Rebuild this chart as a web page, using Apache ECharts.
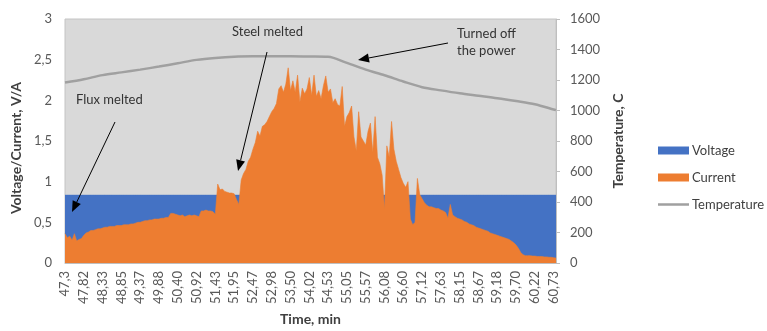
<!DOCTYPE html>
<html>
<head>
<meta charset="utf-8">
<script src="https://cdn.jsdelivr.net/npm/echarts@6/dist/echarts.min.js"></script>
<style>
html,body{margin:0;padding:0;background:#fff;}
#chart{width:767px;height:331px;}
</style>
</head>
<body>
<div id="chart"></div>
<script>
// Tick labels of the time axis (every 8th sample)
const tickLabels = ['47,3','47,82','48,33','48,85','49,37','49,88','50,40','50,92','51,43','51,95','52,47','52,98','53,50','54,02','54,53','55,05','55,57','56,08','56,60','57,12','57,63','58,15','58,67','59,18','59,70','60,22','60,73'];
const samplesPerTick = 8;

// Voltage, V (left axis)
const voltage = [
0.835,0.835,0.835,0.835,0.835,0.835,0.835,0.835,
0.835,0.835,0.835,0.835,0.835,0.835,0.835,0.835,
0.835,0.835,0.835,0.835,0.835,0.835,0.835,0.835,
0.835,0.835,0.835,0.835,0.835,0.835,0.835,0.835,
0.835,0.835,0.835,0.835,0.835,0.835,0.835,0.835,
0.835,0.835,0.835,0.835,0.835,0.835,0.835,0.835,
0.835,0.835,0.835,0.835,0.835,0.835,0.835,0.835,
0.835,0.835,0.835,0.835,0.835,0.835,0.835,0.835,
0.835,0.835,0.835,0.835,0.835,0.835,0.835,0.835,
0.835,0.835,0.835,0.835,0.835,0.835,0.835,0.835,
0.835,0.835,0.835,0.835,0.835,0.835,0.835,0.835,
0.835,0.835,0.835,0.835,0.835,0.835,0.835,0.835,
0.835,0.835,0.835,0.835,0.835,0.835,0.835,0.835,
0.835,0.835,0.835,0.835,0.835,0.835,0.835,0.835,
0.835,0.835,0.835,0.835,0.835,0.835,0.835,0.835,
0.835,0.835,0.835,0.835,0.835,0.835,0.835,0.835,
0.835,0.835,0.835,0.835,0.835,0.835,0.835,0.835,
0.835,0.835,0.835,0.835,0.835,0.835,0.835,0.835,
0.835,0.835,0.835,0.835,0.835,0.835,0.835,0.835,
0.835,0.835,0.835,0.835,0.835,0.835,0.835,0.835,
0.835,0.835,0.835,0.835,0.835,0.835,0.835,0.835,
0.835,0.835,0.835,0.835,0.835,0.835,0.835,0.835,
0.835,0.835,0.835,0.835,0.835,0.835,0.835,0.835,
0.835,0.835,0.835,0.835,0.835,0.835,0.835,0.835,
0.835,0.835,0.835,0.835,0.835,0.835,0.835,0.835,
0.835,0.835,0.835,0.835,0.835,0.835,0.835,0.835,
0.835,0.835
];

// Current, A (left axis)
const current = [
0.36,0.31,0.33,0.28,0.36,0.27,0.29,0.30,
0.34,0.37,0.38,0.40,0.40,0.41,0.42,0.42,
0.43,0.44,0.44,0.45,0.45,0.45,0.46,0.46,
0.46,0.47,0.47,0.47,0.48,0.48,0.49,0.50,
0.50,0.51,0.52,0.52,0.53,0.53,0.54,0.54,
0.54,0.55,0.55,0.56,0.56,0.61,0.61,0.60,
0.59,0.58,0.59,0.57,0.58,0.59,0.58,0.59,
0.58,0.57,0.64,0.64,0.65,0.64,0.64,0.63,
0.60,0.97,0.90,0.91,0.88,0.87,0.86,0.86,
0.85,0.78,0.72,1.02,1.10,1.15,1.25,1.30,
1.40,1.48,1.62,1.56,1.68,1.70,1.74,1.80,
1.86,1.90,1.96,2.14,2.18,2.10,2.20,2.40,
2.12,2.24,2.10,2.31,1.98,2.15,2.08,2.14,
2.28,2.06,2.31,2.05,2.12,2.02,2.18,2.30,
2.10,2.14,1.97,2.02,1.95,1.93,2.17,1.68,
1.80,1.85,1.93,1.55,1.38,1.86,1.55,1.50,
1.45,1.62,1.72,1.36,1.80,1.30,1.22,1.08,
0.66,1.44,1.30,1.74,1.40,1.25,1.15,1.05,
0.98,0.93,1.00,0.54,0.47,0.50,1.04,0.84,
0.79,0.74,0.71,0.69,0.69,0.68,0.67,0.67,
0.65,0.64,0.62,0.55,0.72,0.59,0.57,0.55,
0.54,0.53,0.51,0.50,0.48,0.47,0.46,0.44,
0.43,0.42,0.41,0.40,0.39,0.37,0.36,0.35,
0.34,0.33,0.32,0.31,0.30,0.29,0.27,0.25,
0.22,0.18,0.13,0.10,0.09,0.09,0.09,0.085,
0.085,0.08,0.08,0.08,0.075,0.075,0.07,0.07,
0.065,0.06
];

// Temperature, C (right axis), sampled at sample index
const tempIndex = [0,8,16,24,32,40,48,56,64,72,80,88,96,104,112,120,128,136,144,152,160,168,176,184,192,200,208,209];
const tempValue = [1183,1205,1232,1250,1268,1288,1310,1332,1345,1353,1355,1355,1356,1354,1352,1312,1268,1231,1190,1153,1132,1113,1097,1081,1062,1041,1007,1002];

const categories = current.map((_, i) => String(i));
const tempData = tempIndex.map((ix, k) => [ix, tempValue[k]]);

const FONT = 'Lato';
const chart = echarts.init(document.getElementById('chart'), null, {renderer: 'canvas'});

function arrow(x1, y1, x2, y2) {
  const dx = x2 - x1, dy = y2 - y1, L = Math.sqrt(dx*dx + dy*dy);
  const ux = dx / L, uy = dy / L, len = 11, w = 4.5;
  const bx = x2 - ux * len, by = y2 - uy * len;
  return [
    {type: 'line', shape: {x1: x1, y1: y1, x2: bx, y2: by}, style: {stroke: '#000', lineWidth: 1}, z: 100},
    {type: 'polygon', shape: {points: [[x2, y2], [bx - uy * w, by + ux * w], [bx + uy * w, by - ux * w]]}, style: {fill: '#000'}, z: 100}
  ];
}

const textStyle = {fill: '#333333', font: '13px ' + FONT};
const graphics = [].concat(
  arrow(115, 122, 72, 212),
  arrow(267, 52, 238, 171),
  arrow(448, 43, 358, 60),
  [
    {type: 'text', left: 76, top: 93, style: Object.assign({text: 'Flux melted'}, textStyle), z: 100},
    {type: 'text', left: 232, top: 25, style: Object.assign({text: 'Steel melted'}, textStyle), z: 100},
    {type: 'text', left: 457, top: 25, style: Object.assign({text: 'Turned off\nthe power', lineHeight: 17}, textStyle), z: 100}
  ]
);

const lineIcon = 'path://M0,0h0.01v0.01h-0.01z M0,2.75h31v2.5h-31z M30.99,7.99h0.01v0.01h-0.01z';

const option = {
  animation: false,
  textStyle: {fontFamily: FONT},
  grid: {left: 65, right: 211, top: 19, bottom: 67, show: true, backgroundColor: '#d9d9d9', borderColor: '#c4c4c4', borderWidth: 1},
  legend: {
    orient: 'vertical', left: 653, top: 139, itemWidth: 31, itemHeight: 8, itemGap: 14, symbolKeepAspect: false,
    textStyle: {color: '#404040', fontSize: 13, fontFamily: FONT, padding: [0, 0, 0, -2]},
    data: [{name: 'Voltage', icon: 'rect'}, {name: 'Current', icon: 'rect'}, {name: 'Temperature', icon: lineIcon, itemStyle: {color: '#a0a0a0'}}]
  },
  xAxis: {
    type: 'category', data: categories, boundaryGap: false,
    name: 'Time, min', nameLocation: 'middle', nameGap: 48,
    nameTextStyle: {color: '#404040', fontSize: 14, fontWeight: 'bold', fontFamily: FONT},
    axisLine: {lineStyle: {color: '#bfbfbf'}},
    axisTick: {show: false},
    axisLabel: {
      interval: samplesPerTick - 1, rotate: 90, margin: 8, color: '#595959', fontSize: 13, fontFamily: FONT,
      formatter: (v, idx) => tickLabels[idx / samplesPerTick] || ''
    },
    splitLine: {show: false}
  },
  yAxis: [
    {
      type: 'value', min: 0, max: 3, interval: 0.5,
      name: 'Voltage/Current, V/A', nameLocation: 'middle', nameGap: 35,
      nameTextStyle: {color: '#404040', fontSize: 14, fontWeight: 'bold', fontFamily: FONT, padding: [0, 14, 0, 0]},
      axisLine: {show: false}, axisTick: {show: false}, splitLine: {show: false},
      axisLabel: {color: '#595959', fontSize: 13, margin: 13, fontFamily: FONT, formatter: v => String(v).replace('.', ',')}
    },
    {
      type: 'value', min: 0, max: 1600, interval: 200,
      name: 'Temperature, C', nameLocation: 'middle', nameGap: 48,
      nameTextStyle: {color: '#404040', fontSize: 14, fontWeight: 'bold', fontFamily: FONT},
      axisLine: {show: true, lineStyle: {color: '#bfbfbf'}},
      axisTick: {show: true, length: 4, lineStyle: {color: '#bfbfbf'}},
      splitLine: {show: false},
      axisLabel: {color: '#595959', fontSize: 13, margin: 14, fontFamily: FONT, formatter: v => String(v)}
    }
  ],
  series: [
    {
      name: 'Voltage', type: 'line', data: voltage, symbol: 'none', yAxisIndex: 0,
      color: '#4472c4', lineStyle: {width: 0.5, color: '#4472c4'}, areaStyle: {color: '#4472c4', opacity: 1}, z: 2
    },
    {
      name: 'Current', type: 'line', data: current, symbol: 'none', yAxisIndex: 0,
      color: '#ed7d31', lineStyle: {width: 0.6, color: '#ed7d31'}, areaStyle: {color: '#ed7d31', opacity: 1}, z: 3
    },
    {
      name: 'Temperature', type: 'line', data: tempData, symbol: 'none', yAxisIndex: 1, smooth: 0.3,
      color: '#a0a0a0', lineStyle: {width: 2.5, color: '#a0a0a0'}, z: 4
    }
  ],
  graphic: graphics
};
chart.setOption(option);
</script>
</body>
</html>
